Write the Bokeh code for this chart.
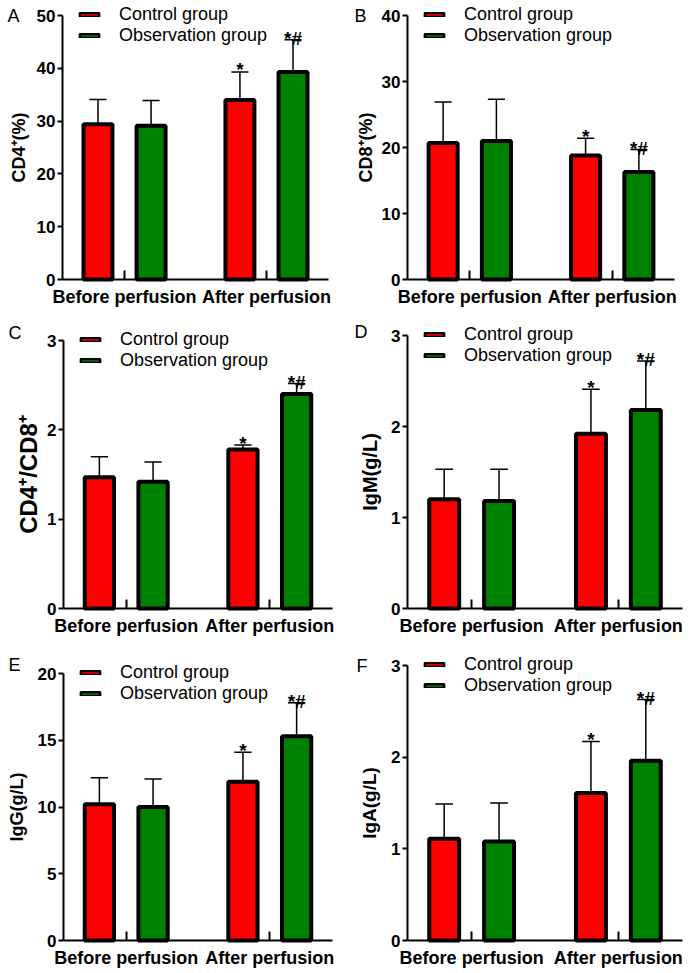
import numpy as np
from bokeh.plotting import figure
from bokeh.models import Range1d, FixedTicker, Legend, LegendItem, ColumnDataSource, Label
from bokeh.layouts import column, row
from bokeh.embed import file_html
from bokeh.resources import INLINE
from bokeh.core.properties import value

# ---------------- data ----------------
categories = ["Before perfusion", "After perfusion"]
series_names = ["Control group", "Observation group"]

cd4_control = [29.4, 34.0]
cd4_control_sd = [4.7, 5.3]
cd4_obs = [29.1, 39.3]
cd4_obs_sd = [4.8, 6.1]

cd8_control = [20.7, 18.8]
cd8_control_sd = [6.2, 2.6]
cd8_obs = [21.0, 16.3]
cd8_obs_sd = [6.3, 3.4]

ratio_control = [1.47, 1.78]
ratio_control_sd = [0.23, 0.05]
ratio_obs = [1.42, 2.40]
ratio_obs_sd = [0.22, 0.12]

igm_control = [1.20, 1.92]
igm_control_sd = [0.33, 0.49]
igm_obs = [1.18, 2.18]
igm_obs_sd = [0.35, 0.54]

igg_control = [10.2, 11.9]
igg_control_sd = [2.0, 2.2]
igg_obs = [10.0, 15.3]
igg_obs_sd = [2.1, 2.5]

iga_control = [1.11, 1.61]
iga_control_sd = [0.38, 0.56]
iga_obs = [1.08, 1.96]
iga_obs_sd = [0.42, 0.67]

marks_control = ["", "*"]
marks_obs = ["", "*#"]

ticks_cd4 = [0, 10, 20, 30, 40, 50]
ticks_cd8 = [0, 10, 20, 30, 40]
ticks_ratio = [0, 1, 2, 3]
ticks_ig = [0, 1, 2, 3]
ticks_igg = [0, 5, 10, 15, 20]

# ---------------- style ----------------
FONT = "Liberation Sans"
RED = "#ff0000"
GREEN = "#008000"
LEG_ROW = 20
X0, X1 = 0.563, 2.437   # x extent of the drawn axes


def make_panel(letter, ylabel, ticks, ctrl, ctrl_sd, obs, obs_sd, geom):
    (W, H, L, br, T, B, ylab_standoff, ylab_size, letter_left, letter_cy) = geom
    ymax = ticks[-1]
    R = W - br
    kx = (R - L) / (X1 - X0)
    ky = (B - T) / ymax
    # the plot frame fills the whole canvas; the axes are drawn only over their bounds
    x_start = X0 - L / kx
    x_end = X1 + br / kx
    y_end = B / ky
    y_start = -(H - B) / ky
    p = figure(width=W, height=H, x_range=Range1d(x_start, x_end),
               y_range=Range1d(y_start, y_end), output_backend="svg",
               toolbar_location=None, min_border_left=0, min_border_right=0,
               min_border_top=0, min_border_bottom=0)
    p.outline_line_color = None
    p.grid.visible = False

    xs = np.arange(len(categories)) + 1.0
    off = 0.187
    half_cap = 0.06
    proxies = []
    for vals, sds, dx, color, marks in ((ctrl, ctrl_sd, -off, RED, marks_control),
                                        (obs, obs_sd, off, GREEN, marks_obs)):
        x = xs + dx
        v = np.array(vals)
        tops = v + np.array(sds)
        p.segment(x0=x, y0=v, x1=x, y1=tops, line_color="black", line_width=1.5)
        p.segment(x0=x - half_cap, y0=tops, x1=x + half_cap, y1=tops,
                  line_color="black", line_width=1.5)
        # thinner-outlined copy (hidden under the bar) gives the legend swatch its style
        proxies.append(p.vbar(x=x, top=v, bottom=0, width=0.204, fill_color=color,
                              line_color="black", line_width=2.5))
        p.vbar(x=x, top=v, bottom=0, width=0.204, fill_color=color,
               line_color="black", line_width=4)
        src = ColumnDataSource(dict(x=x, y=tops, t=marks,
                                    yo=[-2 if m == "*" else -1 for m in marks]))
        p.text(x="x", y="y", text="t", source=src, text_align="center",
               text_baseline="alphabetic", y_offset="yo",
               text_font=value(FONT), text_font_style="bold",
               text_font_size="19px", text_color="black")

    leg = Legend(items=[LegendItem(label=series_names[0], renderers=[proxies[0]]),
                        LegendItem(label=series_names[1], renderers=[proxies[1]])],
                 location=(L + 15, round(H - T - 1 - 1.5 * LEG_ROW)), orientation="vertical",
                 glyph_width=24, glyph_height=5, label_standoff=18, spacing=0,
                 padding=0, margin=0, border_line_color=None, background_fill_alpha=0,
                 label_text_font=FONT, label_text_font_size="18px",
                 label_text_color="black", label_height=19)
    p.add_layout(leg)

    p.add_layout(Label(x=letter_left, y=H - letter_cy, x_units="screen", y_units="screen",
                       text=letter, text_align="left", text_baseline="middle",
                       text_font=FONT, text_font_size="18px", text_color="black"))

    # axes
    for ax in (p.xaxis[0], p.yaxis[0]):
        ax.axis_line_width = 2
        ax.axis_line_color = "black"
        ax.major_tick_line_width = 2
        ax.major_tick_line_color = "black"
        ax.minor_tick_line_color = None
        ax.major_label_text_font = FONT
        ax.major_label_text_font_style = "bold"
        ax.major_label_text_color = "black"
    p.xaxis.major_label_text_font_size = "18px"
    p.yaxis.major_label_text_font_size = "17px"
    p.xaxis.ticker = FixedTicker(ticks=list(xs))
    p.xaxis.major_label_overrides = {int(i): c for i, c in zip(xs, categories)}
    p.xaxis.bounds = (X0, X1)
    p.xaxis.fixed_location = 0
    p.xaxis.major_tick_in = 9
    p.xaxis.major_tick_out = 0
    p.xaxis.major_label_standoff = 7
    p.yaxis.ticker = FixedTicker(ticks=ticks)
    p.yaxis.bounds = (0, ymax)
    p.yaxis.fixed_location = X0
    p.yaxis.major_tick_in = 0
    p.yaxis.major_tick_out = 5
    p.yaxis.major_label_standoff = 2
    p.yaxis.axis_label = ylabel
    p.yaxis.axis_label_text_font = FONT
    p.yaxis.axis_label_text_font_style = "bold"
    p.yaxis.axis_label_text_font_size = ylab_size
    p.yaxis.axis_label_standoff = ylab_standoff
    p.yaxis.axis_label_text_color = "black"
    return p


# geometry: W, H, axis x, gap right of x-axis end, y-top-tick px, y-zero px,
#           ylabel standoff, ylabel size, letter left x, letter centre y (local to the panel)
pa = make_panel("A", "CD4\u207a(%)", ticks_cd4, cd4_control, cd4_control_sd, cd4_obs, cd4_obs_sd,
                (349, 320, 62, 21, 15, 279, 5, "18px", 7, 15))
pb = make_panel("B", "CD8\u207a(%)", ticks_cd8, cd8_control, cd8_control_sd, cd8_obs, cd8_obs_sd,
                (349, 320, 58, 24, 15, 279, 3, "18px", 5, 15))
pc = make_panel("C", "CD4\u207a/CD8\u207a", ticks_ratio, ratio_control, ratio_control_sd,
                ratio_obs, ratio_obs_sd, (349, 320, 63, 17, 20, 288, 2, "24px", 8, 12))
pd = make_panel("D", "IgM(g/L)", ticks_ig, igm_control, igm_control_sd, igm_obs, igm_obs_sd,
                (349, 320, 58, 16, 15, 288, 7, "20px", 5, 11))
pe = make_panel("E", "IgG(g/L)", ticks_igg, igg_control, igg_control_sd, igg_obs, igg_obs_sd,
                (349, 333, 63, 17, 33, 300, 8, "18px", 8, 24))
pf = make_panel("F", "IgA(g/L)", ticks_ig, iga_control, iga_control_sd, iga_obs, iga_obs_sd,
                (349, 333, 58, 16, 25, 300, 8, "19px", 7, 25))

layout = column(row(pa, pb), row(pc, pd), row(pe, pf))
open("out.html", "w").write(file_html(layout, INLINE))
